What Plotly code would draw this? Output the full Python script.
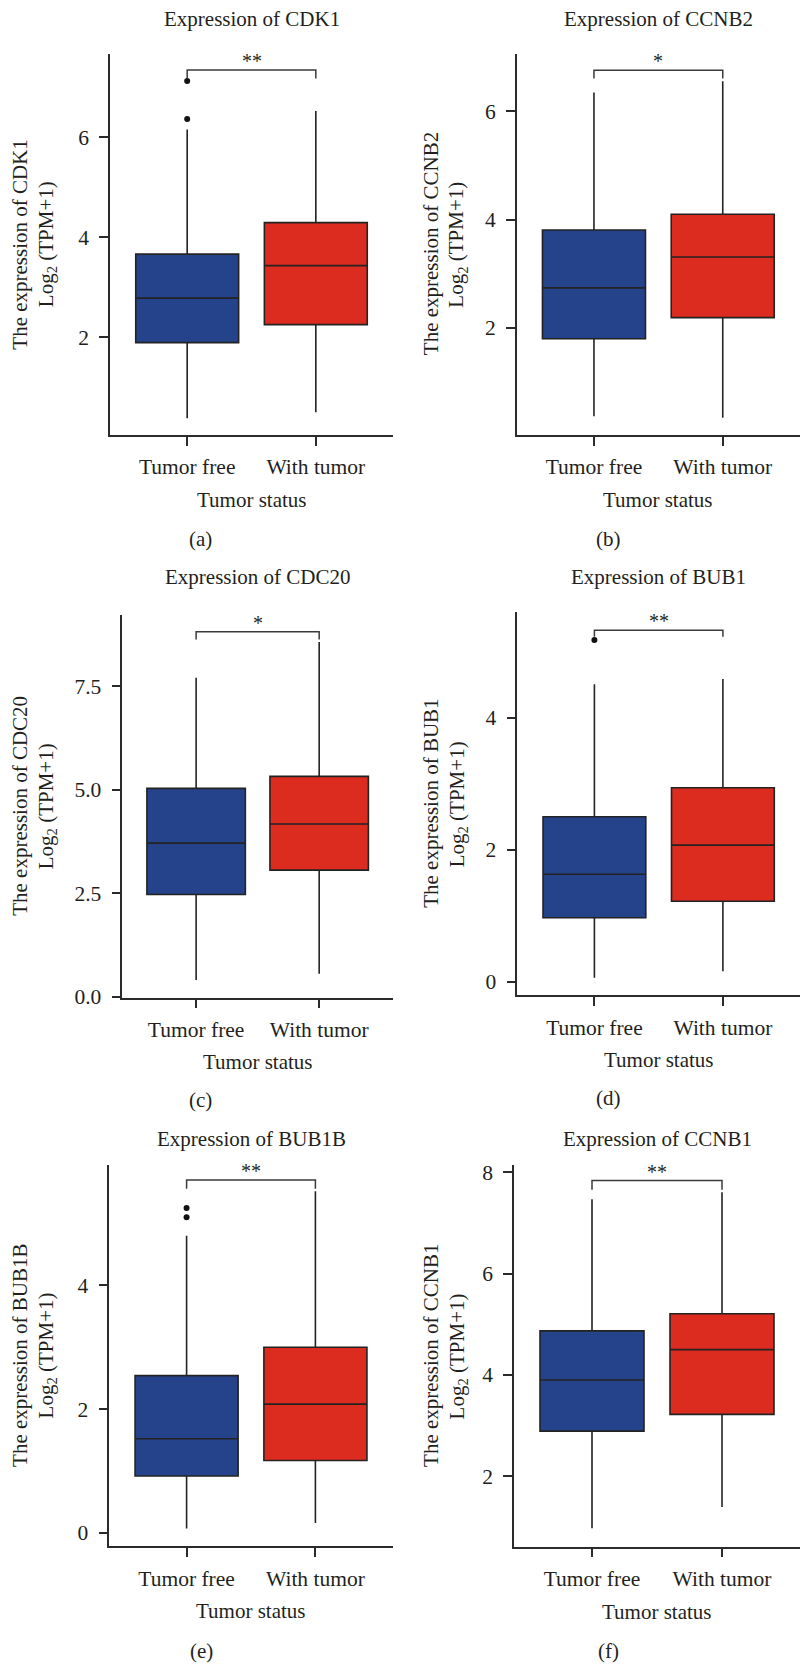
import plotly.graph_objects as go

W, H = 801, 1679

# ---- data -------------------------------------------------------------
groups = ["Tumor free", "With tumor"]
genes = ["CDK1", "CCNB2", "CDC20", "BUB1", "BUB1B", "CCNB1"]
panel_tags = ["(a)", "(b)", "(c)", "(d)", "(e)", "(f)"]

# box statistics per gene, as [Tumor free, With tumor]
lower_whisker = [[0.38, 0.50], [0.37, 0.34], [0.41, 0.56], [0.06, 0.16], [0.07, 0.16], [0.97, 1.39]]
q1 = [[1.89, 2.25], [1.80, 2.19], [2.47, 3.06], [0.97, 1.22], [0.92, 1.17], [2.89, 3.22]]
median = [[2.78, 3.43], [2.74, 3.31], [3.71, 4.17], [1.63, 2.07], [1.52, 2.08], [3.90, 4.50]]
q3 = [[3.66, 4.29], [3.81, 4.10], [5.03, 5.32], [2.50, 2.94], [2.54, 3.00], [4.87, 5.21]]
upper_whisker = [[6.15, 6.52], [6.35, 6.56], [7.70, 8.56], [4.51, 4.59], [4.80, 5.52], [7.47, 7.61]]
outliers_free = [[6.36, 7.12], [], [], [5.18], [5.10, 5.25], []]

significance = ["**", "*", "*", "**", "**", "**"]
bracket_top = [7.34, 6.76, 8.81, 5.33, 5.70, 7.84]
bracket_foot = [7.17, 6.61, 8.62, 5.23, 5.56, 7.66]

y_tickvals = [[2, 4, 6], [2, 4, 6], [0, 2.5, 5, 7.5], [0, 2, 4], [0, 2, 4], [2, 4, 6, 8]]
y_ticktext = [["2", "4", "6"], ["2", "4", "6"], ["0.0", "2.5", "5.0", "7.5"],
              ["0", "2", "4"], ["0", "2", "4"], ["2", "4", "6", "8"]]

# ---- layout geometry (pixels: left, top, right, bottom) ---------------
plot_boxes = [
    (110.0, 50.0, 393.0, 435.0),
    (516.7, 50.0, 800.0, 435.0),
    (122.3, 616.8, 393.0, 1003.2),
    (517.3, 614.3, 800.0, 1000.7),
    (109.3, 1171.7, 392.7, 1557.1),
    (514.0, 1172.4, 800.0, 1557.4),
]
y_ranges = [[0.046, 7.67], [0.025, 7.07], [-0.017, 9.215],
            [-0.204, 5.598], [-0.216, 5.951], [0.609, 8.143]]
title_y = [15, 15, 579, 579, 1146, 1146]
xtitle_y = [501, 501, 1068, 1066, 1622, 1623]
tag_y = [540, 540, 1107, 1105, 1663, 1663]
tag_x = [200, 608, 200, 608, 201, 608]
# centres of the two rotated y-label lines
ylabel_x1 = [20.5, 431, 20.5, 431, 20.5, 431]
ylabel_x2 = [47, 457.5, 47, 457.5, 47, 457.5]

FONT = "Liberation Serif, Times New Roman, serif"
TEXT = "#231f20"
AXIS = "#2b2b2b"
colors = ["#25438a", "#dc2b1f"]
TXT_SIZE = 21
TICK_SIZE = 21.5


def px_x(v):
    return v / W


def px_y(v):
    return 1 - v / H


fig = go.Figure()
annotations = []
layout_axes = {}

for i, gene in enumerate(genes):
    n = "" if i == 0 else str(i + 1)
    xa, ya = "x" + n, "y" + n
    left, top, right, bottom = plot_boxes[i]

    for g, grp in enumerate(groups):
        fig.add_trace(go.Box(
            x=[grp], q1=[q1[i][g]], median=[median[i][g]], q3=[q3[i][g]],
            lowerfence=[lower_whisker[i][g]], upperfence=[upper_whisker[i][g]],
            fillcolor=colors[g], line=dict(color="#232323", width=1.6),
            width=0.8, whiskerwidth=0, boxpoints=False,
            xaxis=xa, yaxis=ya, showlegend=False,
        ))

    if outliers_free[i]:
        fig.add_trace(go.Scatter(
            x=[groups[0]] * len(outliers_free[i]), y=outliers_free[i],
            mode="markers", marker=dict(color="#111111", size=6),
            xaxis=xa, yaxis=ya, showlegend=False,
        ))

    # significance bracket between the two groups
    fig.add_trace(go.Scatter(
        x=[groups[0], groups[0], groups[1], groups[1]],
        y=[bracket_foot[i], bracket_top[i], bracket_top[i], bracket_foot[i]],
        mode="lines", line=dict(color="#3a3a3a", width=1.5),
        xaxis=xa, yaxis=ya, showlegend=False, hoverinfo="skip",
    ))
    annotations.append(dict(
        x=0.5, y=bracket_top[i], xref=xa, yref=ya, text=significance[i],
        showarrow=False, yanchor="bottom", yshift=-4,
        font=dict(family=FONT, size=20, color=TEXT),
    ))

    layout_axes["xaxis" + n] = dict(
        domain=[px_x(left), px_x(right)], anchor=ya,
        type="category", categoryorder="array", categoryarray=groups,
        range=[-0.6, 1.6], showgrid=False, zeroline=False,
        showline=True, linecolor=AXIS, linewidth=1.5,
        ticks="outside", ticklen=9, tickwidth=1.5, tickcolor=AXIS,
        tickfont=dict(family=FONT, size=TICK_SIZE, color=TEXT), ticklabelstandoff=3,
    )
    layout_axes["yaxis" + n] = dict(
        domain=[px_y(bottom), px_y(top)], anchor=xa,
        range=y_ranges[i], showgrid=False, zeroline=False,
        showline=True, linecolor=AXIS, linewidth=1.5,
        ticks="outside", ticklen=9, tickwidth=1.5, tickcolor=AXIS,
        tickvals=y_tickvals[i], ticktext=y_ticktext[i],
        tickfont=dict(family=FONT, size=TICK_SIZE, color=TEXT), ticklabelstandoff=6,
    )

    cx = (left + right) / 2
    cy = (top + bottom) / 2
    annotations.append(dict(
        x=px_x(cx), y=px_y(title_y[i]), xref="paper", yref="paper",
        text=f"Expression of {gene}", showarrow=False,
        xanchor="center", yanchor="middle",
        font=dict(family=FONT, size=TXT_SIZE, color=TEXT),
    ))
    annotations.append(dict(
        x=px_x(cx), y=px_y(xtitle_y[i]), xref="paper", yref="paper",
        text="Tumor status", showarrow=False,
        xanchor="center", yanchor="middle",
        font=dict(family=FONT, size=TXT_SIZE, color=TEXT),
    ))
    annotations.append(dict(
        x=px_x(ylabel_x1[i]), y=px_y(cy), xref="paper", yref="paper",
        text=f"The expression of {gene}",
        textangle=-90, showarrow=False, xanchor="center", yanchor="middle",
        font=dict(family=FONT, size=TXT_SIZE, color=TEXT),
    ))
    annotations.append(dict(
        x=px_x(ylabel_x2[i]), y=px_y(cy), xref="paper", yref="paper",
        text="Log<sub>2</sub> (TPM+1)",
        textangle=-90, showarrow=False, xanchor="center", yanchor="middle",
        font=dict(family=FONT, size=TXT_SIZE, color=TEXT),
    ))
    annotations.append(dict(
        x=px_x(tag_x[i]), y=px_y(tag_y[i]), xref="paper", yref="paper",
        text=panel_tags[i], showarrow=False,
        xanchor="center", yanchor="middle",
        font=dict(family=FONT, size=TXT_SIZE, color=TEXT),
    ))

fig.update_layout(
    width=W, height=H,
    margin=dict(l=0, r=0, t=0, b=0),
    paper_bgcolor="white", plot_bgcolor="white",
    boxmode="overlay",
    annotations=annotations,
    **layout_axes,
)

fig.write_html("out.html")
